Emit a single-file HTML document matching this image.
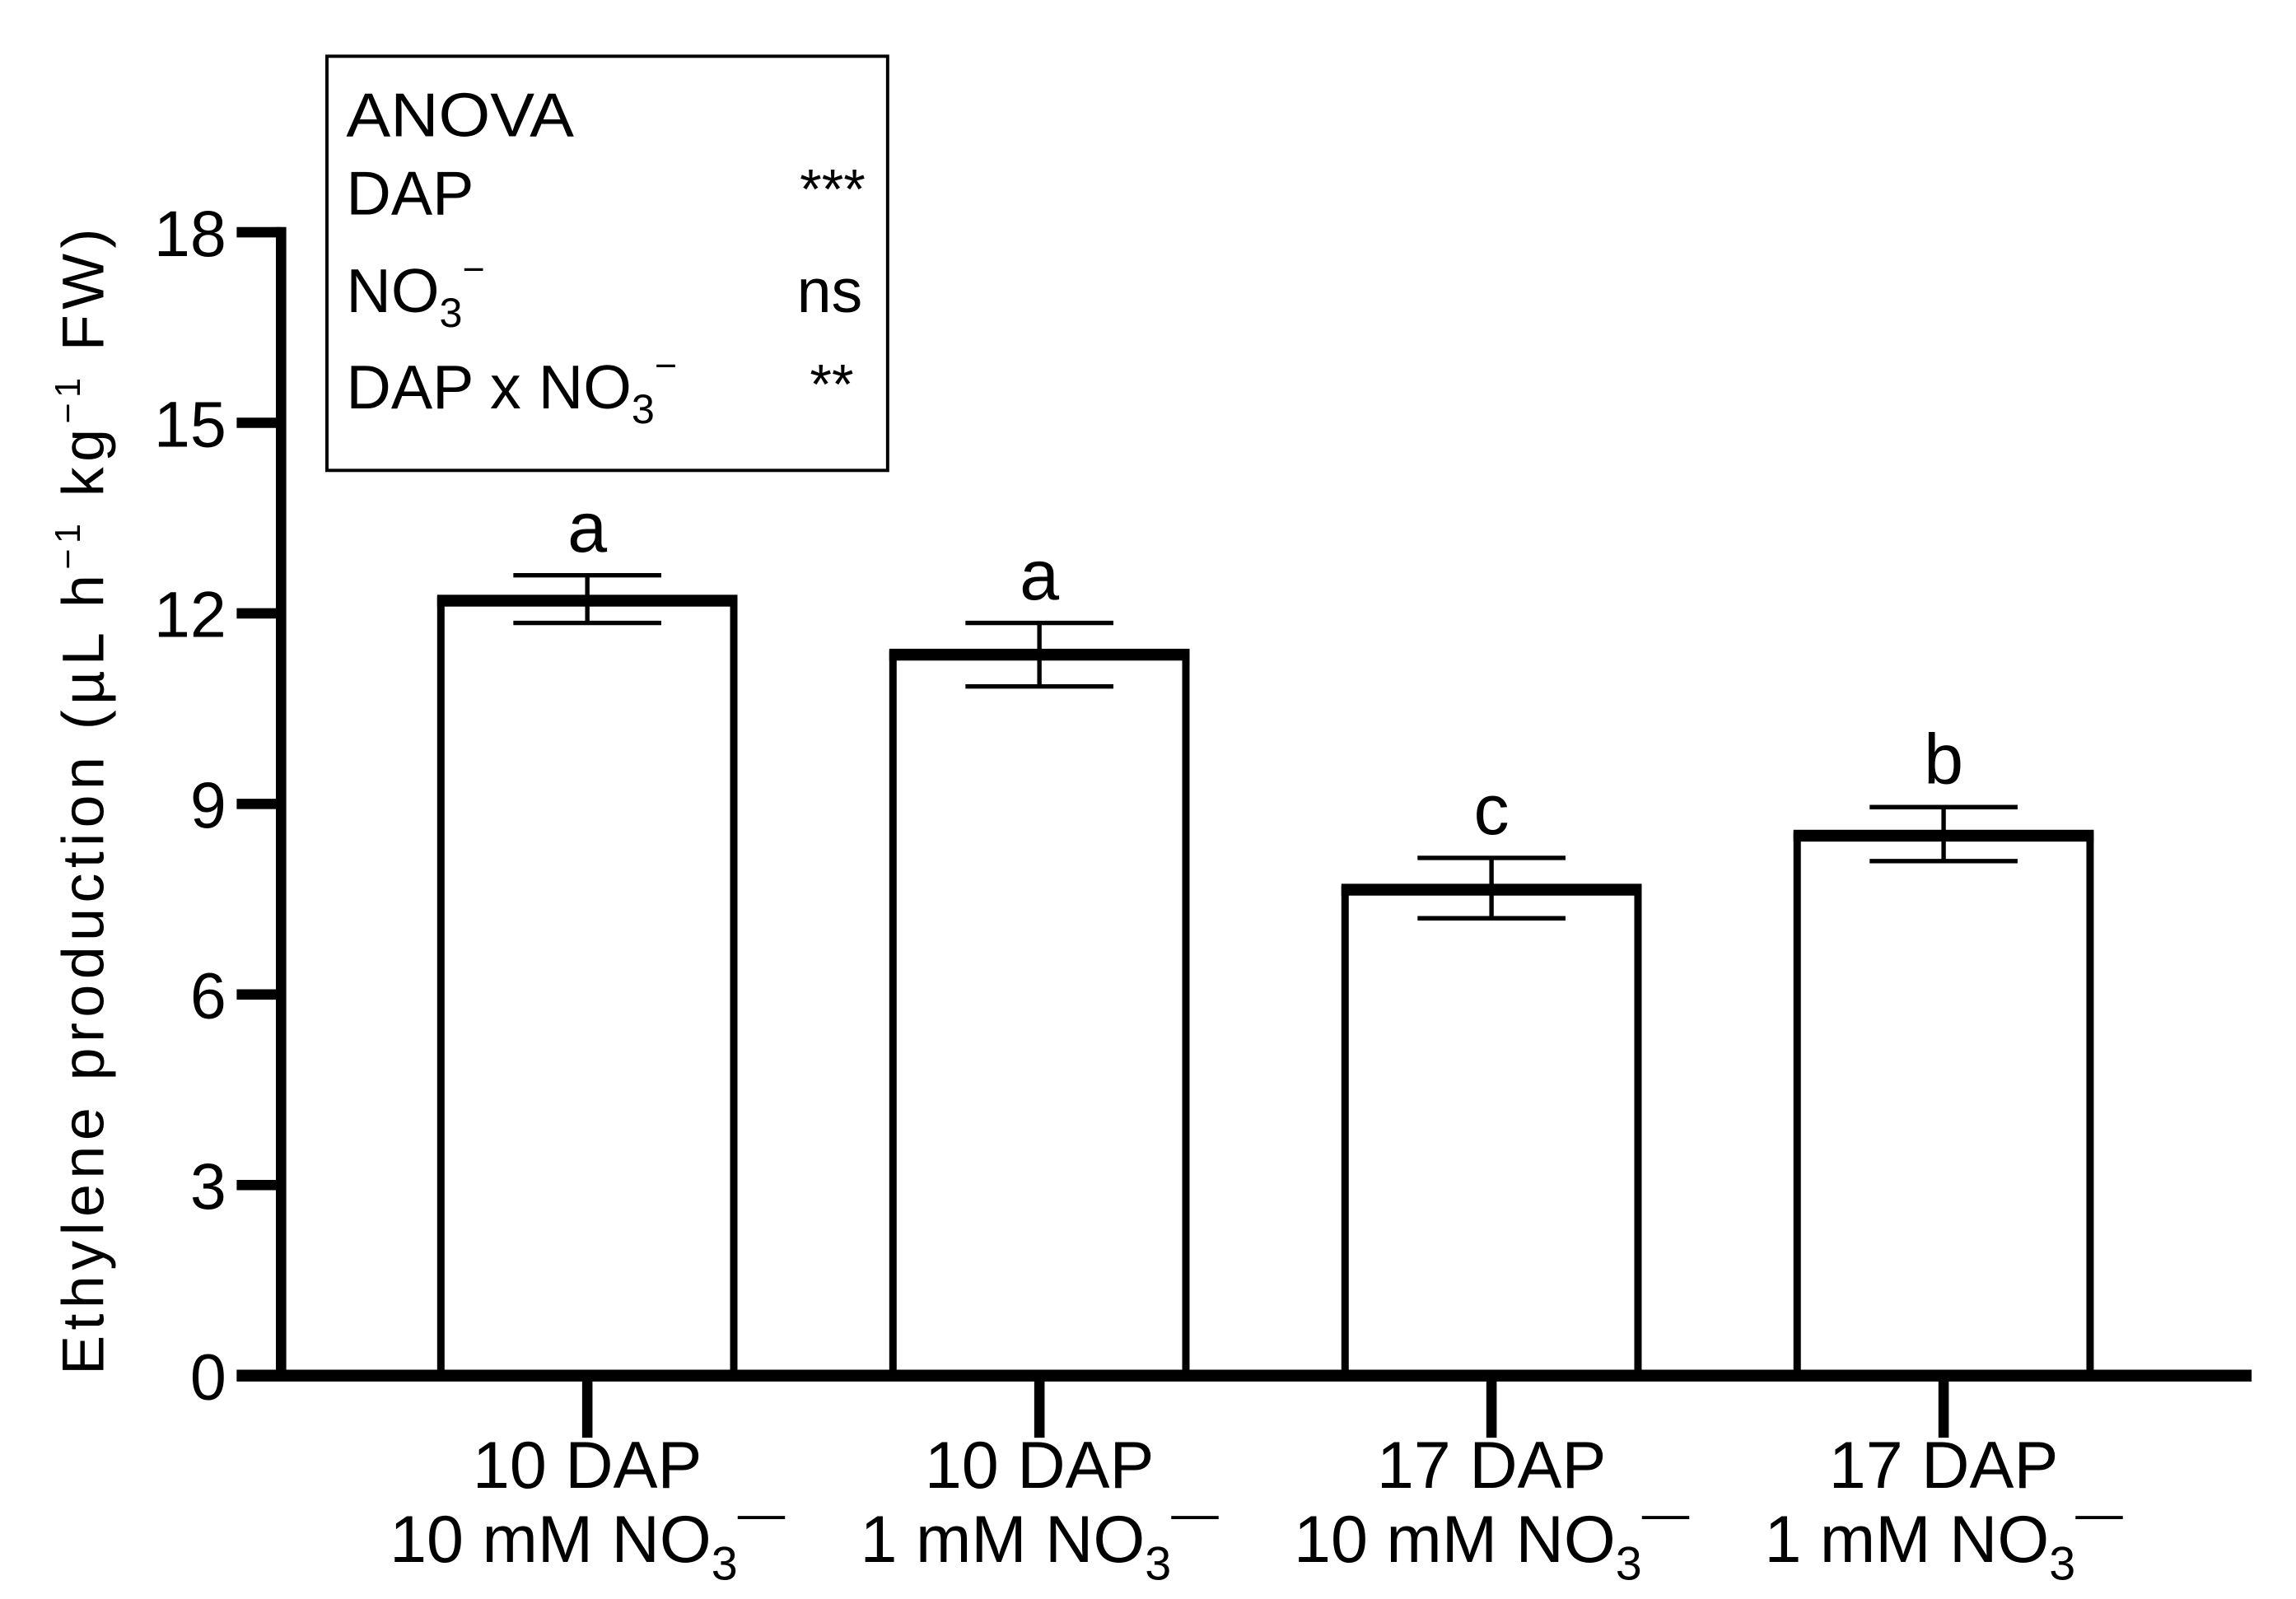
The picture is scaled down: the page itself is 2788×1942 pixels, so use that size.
<!DOCTYPE html>
<html><head><meta charset="utf-8"><style>
html,body{margin:0;padding:0;background:#fff}
svg{display:block}
text{font-family:"Liberation Sans",Arial,sans-serif;fill:#000}
</style></head><body>
<svg id="chart" width="2788" height="1942" viewBox="0 0 1552 1081" xmlns="http://www.w3.org/2000/svg">
<g id="legend">
<rect x="221" y="38" width="379" height="280" fill="#fff" stroke="#000" stroke-width="2.2"/>
<text x="234" y="92" font-size="42" textLength="154" lengthAdjust="spacingAndGlyphs">ANOVA</text>
<text x="234" y="145" font-size="42">DAP</text>
<text x="585" y="141" font-size="38" text-anchor="end">***</text>
<text x="234" y="211" font-size="42">NO<tspan font-size="28" dy="10">3</tspan><tspan font-size="26" dy="-30">−</tspan></text>
<text x="583" y="211" font-size="42" text-anchor="end">ns</text>
<text x="234" y="276" font-size="42">DAP x NO<tspan font-size="28" dy="10">3</tspan><tspan font-size="26" dy="-30">−</tspan></text>
<text x="577" y="273" font-size="38" text-anchor="end">**</text>
</g>
<g id="bars"></g>
<g id="axes"></g>
<text transform="translate(70,542) rotate(-90)" font-size="40" text-anchor="middle" textLength="775" lengthAdjust="spacing">Ethylene production (µL h<tspan font-size="24" dy="-16">−1</tspan><tspan dy="16"> kg</tspan><tspan font-size="24" dy="-16">−1</tspan><tspan dy="16"> FW)</tspan></text>
</svg>
<script>
const categories = ["10 DAP|10 mM NO", "10 DAP|1 mM NO", "17 DAP|10 mM NO", "17 DAP|1 mM NO"];
const means = [12.2, 11.35, 7.65, 8.5];
const errUpper = [12.6, 11.85, 8.15, 8.95];
const errLower = [11.85, 10.85, 7.2, 8.1];
const letters = ["a", "a", "c", "b"];
const yTicks = [0, 3, 6, 9, 12, 15, 18];

const NS = "http://www.w3.org/2000/svg";
const y0 = 930, yTop = 157, yMax = 18;
const y = v => y0 - (y0 - yTop) * v / yMax;
const xStart = 397, xStep = 305.6;
const x = i => xStart + i * xStep;
const barW = 198;
function mk(tag, attrs, parent){const e=document.createElementNS(NS,tag);for(const k in attrs)e.setAttribute(k,attrs[k]);parent.appendChild(e);return e;}
const bars = document.getElementById('bars');
const axes = document.getElementById('axes');

categories.forEach((c,i)=>{
  const cx = x(i);
  const r = mk('rect',{x:cx-barW/2,y:y(means[i]),width:barW,height:y0-y(means[i]),fill:'#fff',stroke:'#000','stroke-width':5},bars);
  
  
  const top = mk('rect',{x:cx-barW/2-2.5,y:y(means[i])-4,width:barW+5,height:8,fill:'#000'},bars);
  
  
  const eg = mk('g',{stroke:'#000','stroke-width':3},bars);
  
  
  mk('line',{x1:cx,x2:cx,y1:y(errUpper[i]),y2:y(errLower[i])},eg);
  mk('line',{x1:cx-50,x2:cx+50,y1:y(errUpper[i]),y2:y(errUpper[i])},eg);
  mk('line',{x1:cx-50,x2:cx+50,y1:y(errLower[i]),y2:y(errLower[i])},eg);
  const t = mk('text',{x:cx,y:y(errUpper[i])-16,'font-size':48,'text-anchor':'middle'},bars);
  t.textContent = letters[i];
  
  
  const tk = mk('line',{x1:cx,x2:cx,y1:y0,y2:972,stroke:'#000','stroke-width':7},axes);
  
  
  const parts = c.split('|');
  const l1 = mk('text',{x:cx,y:1006,'font-size':45,'text-anchor':'middle'},axes);
  l1.textContent = parts[0];
  
  
  const l2 = mk('text',{x:cx,y:1056,'font-size':45,'text-anchor':'middle'},axes);
  
  
  l2.appendChild(document.createTextNode(parts[1]));
  const s1 = mk('tspan',{'font-size':32,dy:12},l2); s1.textContent='3';
  const s2 = mk('tspan',{'font-size':32,dy:-34},l2); s2.textContent='—';
});

yTicks.forEach(v=>{
  const tk = mk('line',{x1:160,x2:190,y1:y(v),y2:y(v),stroke:'#000','stroke-width':7},axes);
  
  
  const t = mk('text',{x:153,y:y(v)+16,'font-size':44,'text-anchor':'end'},axes);
  t.textContent = v;
  
  
});
const ya = mk('line',{x1:190,x2:190,y1:yTop-3.5,y2:y0+3.5,stroke:'#000','stroke-width':7},axes);


const xa = mk('line',{x1:160,x2:1522,y1:y0,y2:y0,stroke:'#000','stroke-width':8},axes);


</script>
</body></html>
